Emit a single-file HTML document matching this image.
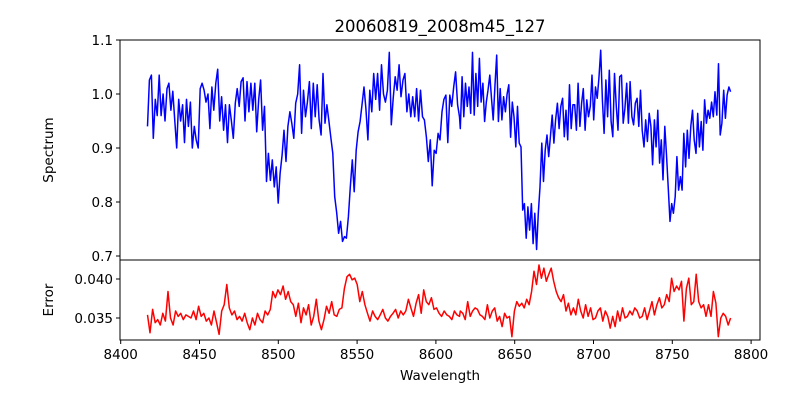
<!DOCTYPE html>
<html><head><meta charset="utf-8"><style>
body{margin:0;background:#fff;}
svg text{font-family:"DejaVu Sans","Liberation Sans",sans-serif;}
</style></head>
<body>
<svg id="chart" width="800" height="400" xmlns="http://www.w3.org/2000/svg"></svg>
<script>
const fluxA=[0.94,1.026,1.035,0.918,0.99,0.96,1.035,0.96,1.0,0.95,1.01,1.02,0.97,1.005,0.95,0.9,0.99,0.95,0.98,0.91,0.99,0.94,0.985,0.90,0.94,0.915,0.90,1.01,1.02,1.007,0.985,1.0,0.936,1.013,0.97,1.02,1.046,0.95,0.995,0.933,0.98,0.91,0.98,0.95,0.918,0.983,1.01,0.977,1.023,1.03,0.95,1.023,0.967,1.02,0.97,1.02,0.93,0.99,1.026,0.933,0.977,0.838,0.89,0.84,0.878,0.828,0.865,0.798,0.853,0.887,0.933,0.875,0.94,0.967,0.946,0.918,0.983,1.0,1.054,0.927,1.007,0.958,0.985,1.023,0.936,1.02,0.958,1.017,0.952,0.924,1.038,0.946,0.98,0.95,0.92,0.89,0.81,0.78,0.742,0.764,0.727,0.736,0.733,0.773,0.828,0.878,0.819,0.896,0.93,0.949,0.98,1.013,0.973,0.915,1.007,0.967,1.038,0.99,1.038,0.97,1.054,1.0,0.985,1.007,1.077,0.943,0.992,1.032,1.007,1.054,0.995,1.026,1.038,0.967,1.0,0.958,0.995,0.958,1.01,0.95,1.007,0.958,0.952,0.92,0.875,0.915,0.83,0.896,0.89,0.927,0.915,0.967,0.99,0.998,0.91,0.998,0.977,1.013,1.041,0.98,0.958];
const fluxB=[0.936,1.032,0.958,1.02,0.977,1.013,0.964,1.077,0.961,1.038,0.977,1.066,0.985,1.02,0.949,0.985,1.007,1.035,0.992,0.952,1.017,1.072,0.949,1.01,0.952,0.995,0.967,1.0,1.017,0.92,0.985,0.958,0.902,0.977,0.909,0.902,0.785,0.797,0.733,0.791,0.748,0.797,0.723,0.779,0.712,0.779,0.828,0.909,0.838,0.896,0.924,0.884,0.921,0.961,0.909,0.952,0.983,0.936,0.977,0.992,0.921,0.97,0.915,1.017,0.936,0.98,0.98,0.933,1.02,0.94,0.983,1.01,0.933,0.989,0.958,0.977,1.035,0.952,1.013,0.992,1.029,1.081,0.989,0.927,1.026,0.958,1.044,0.949,0.921,1.038,0.977,0.933,1.032,1.035,0.946,0.973,1.02,0.946,1.023,0.958,0.943,0.983,0.992,0.94,1.007,0.933,0.902,0.952,0.912,0.964,0.94,0.869,0.952,0.902,0.97,0.872,0.915,0.841,0.94,0.887,0.828,0.764,0.797,0.779,0.81,0.884,0.822,0.847,0.822,0.927,0.865,0.933,0.881,0.94,0.97,0.915,0.89,0.964,0.902,0.949,0.896,0.989,0.946,0.97,0.955,0.985,0.958,1.004,0.961,1.056,0.924,0.946,1.007,0.955,0.998,1.013,1.004];
const errA=[.0354,.0331,.0361,.0344,.0348,.0341,.0356,.0346,.0384,.0350,.0341,.0359,.0352,.0356,.0348,.0354,.0352,.0350,.0359,.0348,.0365,.0352,.0356,.0346,.0350,.0341,.0359,.0344,.0329,.0359,.0367,.0393,.0363,.0354,.0359,.0348,.0352,.0346,.0356,.0344,.0335,.0350,.0341,.0356,.0348,.0344,.0359,.0354,.0361,.0384,.0376,.0386,.0380,.0391,.0374,.0384,.0371,.0367,.0352,.0369,.0344,.0363,.0354,.0367,.0341,.0352,.0374,.0346,.0335,.0348,.0365,.0356,.0371,.0354,.0352,.0361,.0363,.0388,.0403,.0406,.0399,.0401,.0393,.0371,.0384,.0367,.0356,.0346,.0359,.0352,.0348,.0354,.0361,.0350,.0346,.0352,.0356,.0361,.0350,.0359,.0354,.0359,.0374,.0363,.0352,.0369,.0380,.0356,.0386,.0371,.0367,.0376,.0361,.0363,.0356,.0352,.0359,.0354,.0352,.0348,.0359,.0354,.0352];
const errB=[.0359,.0356,.0348,.0371,.0352,.0359,.0363,.0361,.0354,.0352,.0348,.0367,.0350,.0359,.0363,.0346,.0352,.0339,.0356,.0350,.0352,.0326,.0359,.0371,.0365,.0369,.0363,.0374,.0367,.0384,.0410,.0393,.0418,.0401,.0414,.0397,.0406,.0414,.0397,.0384,.0376,.0371,.0380,.0359,.0369,.0354,.0363,.0354,.0374,.0359,.0350,.0367,.0352,.0363,.0348,.0350,.0359,.0363,.0346,.0359,.0352,.0337,.0352,.0339,.0359,.0346,.0363,.0350,.0352,.0359,.0354,.0363,.0359,.0350,.0352,.0363,.0348,.0359,.0371,.0354,.0367,.0376,.0363,.0367,.0380,.0371,.0401,.0384,.0391,.0386,.0397,.0346,.0388,.0401,.0367,.0371,.0406,.0371,.0363,.0367,.0352,.0367,.0352,.0384,.0369,.0326,.0350,.0356,.0352,.0341,.0350];
const waveRangeA=[8417,8615];
const waveRangeB=[8615.5,8787];
const errRangeA=[8417,8615];
const errRangeB=[8615.5,8787];
const xTicks=[8400,8450,8500,8550,8600,8650,8700,8750,8800];
const fluxTicks=[0.7,0.8,0.9,1.0,1.1];
const errTicks=[0.035,0.040];

const svg=document.getElementById('chart');
const NS='http://www.w3.org/2000/svg';
function mk(t,a,txt){const e=document.createElementNS(NS,t);for(const k in a)e.setAttribute(k,a[k]);if(txt!=null)e.textContent=txt;svg.appendChild(e);return e;}
const L=120,R=760;
const xs=w=>120.7+(w-8400)*1.576;
const ysF=f=>40+(1.1-f)*540;
const ysE=e=>279+(0.040-e)*7800;
function grid(arr,r){const n=arr.length;return arr.map((v,i)=>r[0]+(r[1]-r[0])*i/(n-1));}
function pts(a,b,ra,rb,ys){const wa=grid(a,ra),wb=grid(b,rb);let p=[];a.forEach((v,i)=>p.push(xs(wa[i]).toFixed(1)+','+ys(v).toFixed(1)));b.forEach((v,i)=>p.push(xs(wb[i]).toFixed(1)+','+ys(v).toFixed(1)));return p.join(' ');}

let e;
e=mk('polyline',{points:pts(fluxA,fluxB,waveRangeA,waveRangeB,ysF),fill:'none',stroke:'#0000ff','stroke-width':1.5,'stroke-linejoin':'round'});


e=mk('polyline',{points:pts(errA,errB,errRangeA,errRangeB,ysE),fill:'none',stroke:'#ff0000','stroke-width':1.5,'stroke-linejoin':'round'});



e=mk('rect',{x:L,y:40,width:R-L,height:220,fill:'none',stroke:'#000','stroke-width':1});


e=mk('rect',{x:L,y:260,width:R-L,height:80,fill:'none',stroke:'#000','stroke-width':1});



fluxTicks.forEach(t=>{const y=ysF(t);mk('line',{x1:L-4,x2:L,y1:y,y2:y,stroke:'#000'});
e=mk('text',{x:L-7,y:y+5,'text-anchor':'end','font-size':13.5},t.toFixed(1));

});
errTicks.forEach(t=>{const y=ysE(t);mk('line',{x1:L-4,x2:L,y1:y,y2:y,stroke:'#000'});
e=mk('text',{x:L-7,y:y+5,'text-anchor':'end','font-size':13.5},t.toFixed(3));

});
xTicks.forEach(t=>{const x=xs(t);mk('line',{x1:x,x2:x,y1:340,y2:344,stroke:'#000'});
e=mk('text',{x:x,y:359,'text-anchor':'middle','font-size':13.5},String(t));

});

e=mk('text',{x:440,y:32,'text-anchor':'middle','font-size':16.5},'20060819_2008m45_127');


e=mk('text',{x:440,y:380,'text-anchor':'middle','font-size':13.5},'Wavelength');


e=mk('text',{x:53,y:150,'text-anchor':'middle','font-size':13.5,transform:'rotate(-90 53 150)'},'Spectrum');


e=mk('text',{x:53,y:300,'text-anchor':'middle','font-size':13.5,transform:'rotate(-90 53 300)'},'Error');


</script>
</body></html>
